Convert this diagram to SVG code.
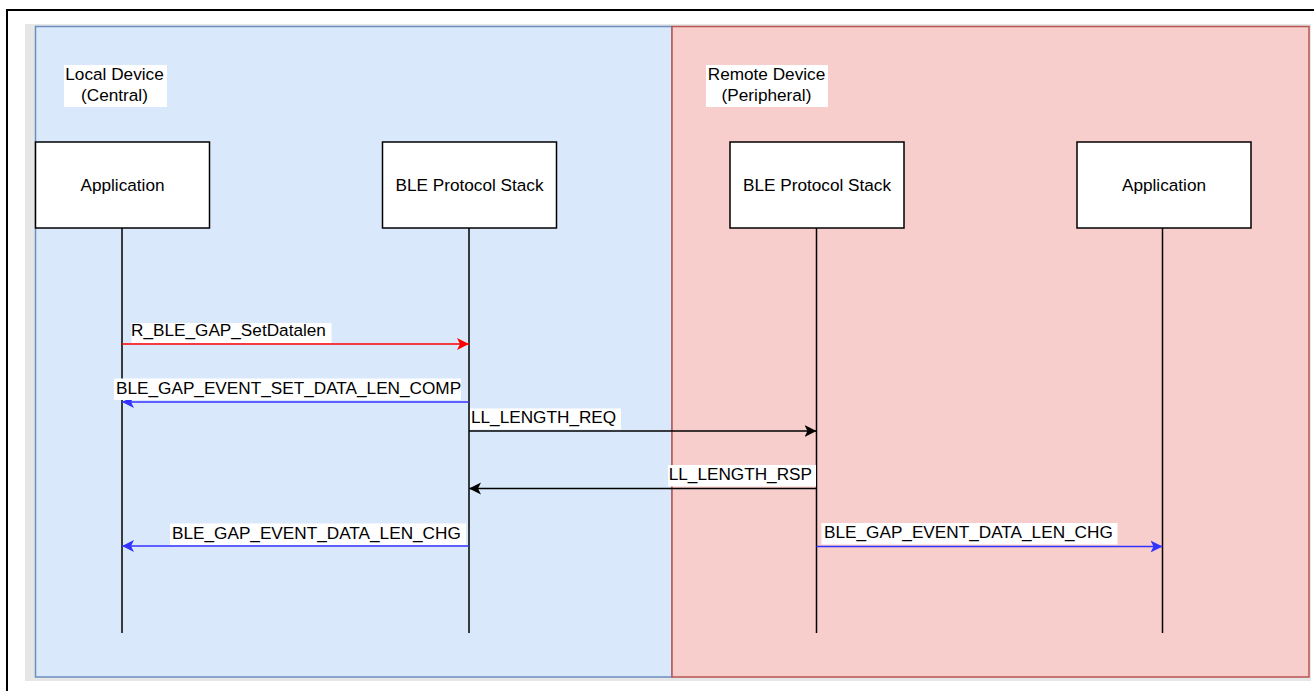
<svg xmlns="http://www.w3.org/2000/svg" width="1314" height="691" viewBox="0 0 1314 691">
<style>
text{font-family:"Liberation Sans",Arial,sans-serif;font-size:17.2px;fill:#000}
.box{fill:#fff;stroke:#000;stroke-width:1.5}
.life{stroke:#000;stroke-width:1.5;fill:none}
.lbl{fill:#fff}
.msg{fill:none;stroke-width:1.5}
</style>
<defs>
<marker id="arrK" markerUnits="userSpaceOnUse" markerWidth="14" markerHeight="14" viewBox="0 -7 14 14" refX="12" refY="0" orient="auto"><path d="M0,-6 L12,0 L0,6 L3,0 Z" fill="#000"/></marker>
<marker id="arrR" markerUnits="userSpaceOnUse" markerWidth="14" markerHeight="14" viewBox="0 -7 14 14" refX="12" refY="0" orient="auto"><path d="M0,-6 L12,0 L0,6 L3,0 Z" fill="#ff0000"/></marker>
<marker id="arrB" markerUnits="userSpaceOnUse" markerWidth="14" markerHeight="14" viewBox="0 -7 14 14" refX="12" refY="0" orient="auto"><path d="M0,-6 L12,0 L0,6 L3,0 Z" fill="#3333ff"/></marker>
</defs>
<rect x="0" y="0" width="1314" height="691" fill="#fff"/>
<rect x="7" y="10" width="1320" height="700" fill="none" stroke="#000" stroke-width="2"/>
<rect x="25" y="24" width="1286" height="657" fill="#e6e6e6"/>
<g id="panel-local">
<rect x="35.5" y="26.5" width="636.5" height="650.5" fill="#dae8fc" stroke="#6c8ebf" stroke-width="1.5"/>
<rect class="lbl" x="64" y="65" width="103" height="42"/>
<text x="114.5" y="80" text-anchor="middle">Local Device</text>
<text x="114.5" y="101" text-anchor="middle">(Central)</text>
</g>
<g id="panel-remote">
<rect x="672" y="26.5" width="637" height="650.5" fill="#f8cecc" stroke="#b85450" stroke-width="1.5"/>
<rect class="lbl" x="706" y="65" width="122" height="42"/>
<text x="766.5" y="80" text-anchor="middle">Remote Device</text>
<text x="766.5" y="101" text-anchor="middle">(Peripheral)</text>
</g>
<g id="app-local">
<line class="life" x1="122" y1="228" x2="122" y2="633"/>
<rect class="box" x="35.5" y="142" width="174" height="86"/>
<text x="122.5" y="191" text-anchor="middle">Application</text>
</g>
<g id="stack-local">
<line class="life" x1="469" y1="228" x2="469" y2="633"/>
<rect class="box" x="382.5" y="142" width="174" height="86"/>
<text x="469.5" y="191" text-anchor="middle">BLE Protocol Stack</text>
</g>
<g id="stack-remote">
<line class="life" x1="816.5" y1="228" x2="816.5" y2="633"/>
<rect class="box" x="730" y="142" width="174" height="86"/>
<text x="817" y="191" text-anchor="middle">BLE Protocol Stack</text>
</g>
<g id="app-remote">
<line class="life" x1="1162.5" y1="228" x2="1162.5" y2="633"/>
<rect class="box" x="1077" y="142" width="174" height="86"/>
<text x="1164" y="191" text-anchor="middle">Application</text>
</g>
<g id="connectors">
<line class="msg" x1="122" y1="344" x2="469" y2="344" stroke="#ff0000" marker-end="url(#arrR)"/>
<rect class="lbl" x="131.5" y="323" width="200" height="20"/>
<text x="131" y="336">R_BLE_GAP_SetDatalen</text>

<line class="msg" x1="469" y1="402" x2="122" y2="402" stroke="#3333ff" marker-end="url(#arrB)"/>
<rect class="lbl" x="114" y="378.5" width="347" height="21.5"/>
<text x="116" y="393.5">BLE_GAP_EVENT_SET_DATA_LEN_COMP</text>

<line class="msg" x1="469" y1="431" x2="816.5" y2="431" stroke="#000" marker-end="url(#arrK)"/>
<rect class="lbl" x="470" y="408.5" width="151" height="21"/>
<text x="471" y="423">LL_LENGTH_REQ</text>

<line class="msg" x1="816.5" y1="488.5" x2="469" y2="488.5" stroke="#000" marker-end="url(#arrK)"/>
<rect class="lbl" x="668" y="465" width="148" height="21.5"/>
<text x="812" y="480" text-anchor="end">LL_LENGTH_RSP</text>

<line class="msg" x1="469" y1="546" x2="122" y2="546" stroke="#3333ff" marker-end="url(#arrB)"/>
<rect class="lbl" x="170" y="523.5" width="296" height="21.5"/>
<text x="172" y="538.5">BLE_GAP_EVENT_DATA_LEN_CHG</text>

<line class="msg" x1="816.5" y1="546.5" x2="1162.5" y2="546.5" stroke="#3333ff" marker-end="url(#arrB)"/>
<rect class="lbl" x="821.5" y="523" width="296" height="21.5"/>
<text x="824" y="538">BLE_GAP_EVENT_DATA_LEN_CHG</text>
</g>
</svg>
